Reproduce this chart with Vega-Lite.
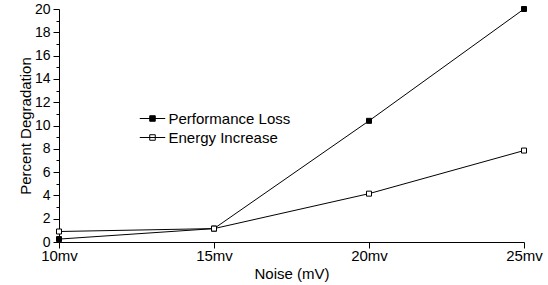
{
  "$schema": "https://vega.github.io/schema/vega-lite/v6.json",
  "autosize": "none",
  "width": 465,
  "height": 233,
  "padding": {"left": 59, "top": 9, "right": 24, "bottom": 43},
  "background": "white",
  "config": {
    "font": "Liberation Sans",
    "view": {"stroke": null},
    "axis": {
      "domainColor": "black",
      "tickColor": "black",
      "labelColor": "black",
      "titleColor": "black",
      "labelFont": "Liberation Sans",
      "titleFont": "Liberation Sans",
      "labelFontSize": 15,
      "titleFontSize": 15,
      "titleFontWeight": "normal",
      "grid": false
    },
    "legend": {
      "labelFont": "Liberation Sans",
      "labelFontSize": 15,
      "labelColor": "black"
    }
  },
  "data": {
    "values": [
      {"noise": 10, "series": "Performance Loss", "value": 0.25},
      {"noise": 15, "series": "Performance Loss", "value": 1.15},
      {"noise": 20, "series": "Performance Loss", "value": 10.4},
      {"noise": 25, "series": "Performance Loss", "value": 20.0},
      {"noise": 10, "series": "Energy Increase", "value": 0.9},
      {"noise": 15, "series": "Energy Increase", "value": 1.15},
      {"noise": 20, "series": "Energy Increase", "value": 4.15},
      {"noise": 25, "series": "Energy Increase", "value": 7.85}
    ]
  },
  "encoding": {
    "x": {
      "field": "noise",
      "type": "quantitative",
      "scale": {"domain": [10, 25], "nice": false, "zero": false},
      "axis": {
        "title": "Noise (mV)",
        "values": [10, 15, 20, 25],
        "labelExpr": "datum.value + 'mv'",
        "labelFlush": false,
        "tickSize": 6,
        "labelPadding": 0,
        "titlePadding": 3
      }
    },
    "y": {
      "field": "value",
      "type": "quantitative",
      "scale": {"domain": [0, 20], "nice": false},
      "axis": {
        "title": "Percent Degradation",
        "values": [0,1,2,3,4,5,6,7,8,9,10,11,12,13,14,15,16,17,18,19,20],
        "labelExpr": "datum.value % 2 === 0 ? datum.label : ''",
        "labelOverlap": false,
        "labelFontSize": 14,
        "tickSize": {"condition": {"test": "datum.value % 2 === 0", "value": 6}, "value": 3},
        "labelPadding": 3,
        "titlePadding": 1
      }
    }
  },
  "layer": [
    {
      "mark": {"type": "line", "color": "black", "strokeWidth": 1},
      "encoding": {"detail": {"field": "series"}}
    },
    {
      "mark": {"type": "point", "shape": "square", "size": 25, "filled": false, "stroke": "black", "strokeWidth": 1, "opacity": 1},
      "encoding": {
        "fill": {
          "field": "series",
          "type": "nominal",
          "scale": {"domain": ["Performance Loss", "Energy Increase"], "range": ["black", "white"]},
          "legend": {
            "title": null,
            "orient": "none",
            "legendX": 86,
            "legendY": 102,
            "padding": 0,
            "symbolType": "M-3,0H3M-0.65,-0.65H0.65V0.65H-0.65Z",
            "symbolSize": 72,
            "symbolStrokeColor": "black",
            "symbolStrokeWidth": 1,
            "symbolOpacity": 1,
            "labelOffset": 8.5,
            "rowPadding": 3
          }
        }
      }
    }
  ]
}
